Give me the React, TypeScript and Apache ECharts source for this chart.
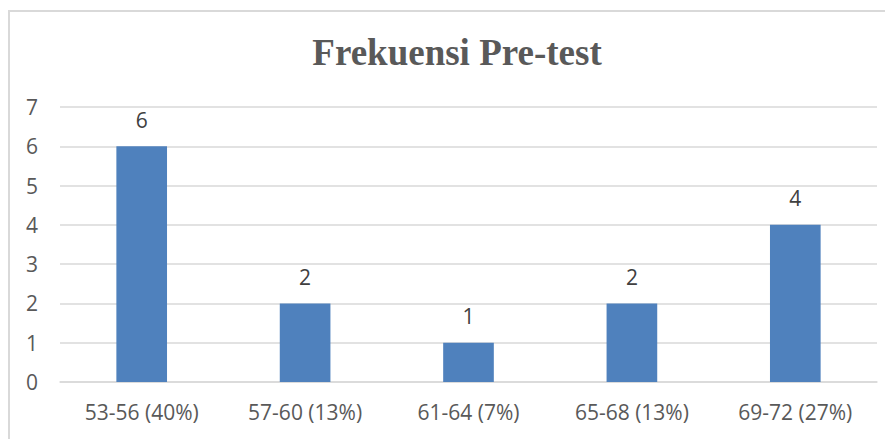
import React, { useEffect, useRef } from "react";
import * as echarts from "echarts";

const categories = ["53-56 (40%)", "57-60 (13%)", "61-64 (7%)", "65-68 (13%)", "69-72 (27%)"];
const frequencies = [6, 2, 1, 2, 4];
const titleText = "Frekuensi Pre-test";

export default function App() {
  const ref = useRef<HTMLDivElement>(null);
  useEffect(() => {
    document.body.style.overflow = "hidden";
    const chart = echarts.init(ref.current!, undefined, { renderer: "svg" });
    const labelFont = "'Open Sans', 'Noto Sans', sans-serif";
    chart.setOption({
      animation: false,
      title: {
        text: titleText,
        left: 444,
        textAlign: "center",
        top: 21,
        textStyle: {
          fontFamily: "'Liberation Serif', 'Times New Roman', serif",
          fontWeight: "bold",
          fontSize: 37,
          color: "#595959",
        },
      },
      graphic: [
        {
          type: "rect",
          shape: { x: 1, y: 3, width: 1000, height: 1000 },
          style: { fill: "none", stroke: "#d9d9d9", lineWidth: 2 },
          silent: true,
        },
      ],
      grid: { left: 52, right: 16, top: 99, bottom: 57 },
      xAxis: {
        type: "category",
        data: categories,
        axisTick: { show: false },
        axisLine: { lineStyle: { color: "#d9d9d9", width: 1.5 } },
        axisLabel: { color: "#595959", fontSize: 21, fontFamily: labelFont, margin: 19 },
      },
      yAxis: {
        type: "value",
        min: 0,
        max: 7,
        interval: 1,
        axisLine: { show: false },
        axisTick: { show: false },
        splitLine: { lineStyle: { color: "#d9d9d9", width: 1.5 } },
        axisLabel: { color: "#595959", fontSize: 21, fontFamily: labelFont, margin: 22 },
      },
      series: [
        {
          type: "bar",
          data: frequencies,
          barWidth: "31%",
          itemStyle: { color: "#4F81BD" },
          label: {
            show: true,
            position: "top",
            distance: 16,
            color: "#404040",
            fontSize: 21,
            fontFamily: labelFont,
          },
        },
      ],
    });
    return () => chart.dispose();
  }, []);
  return <div ref={ref} style={{ width: 885, height: 431 }} />;
}
